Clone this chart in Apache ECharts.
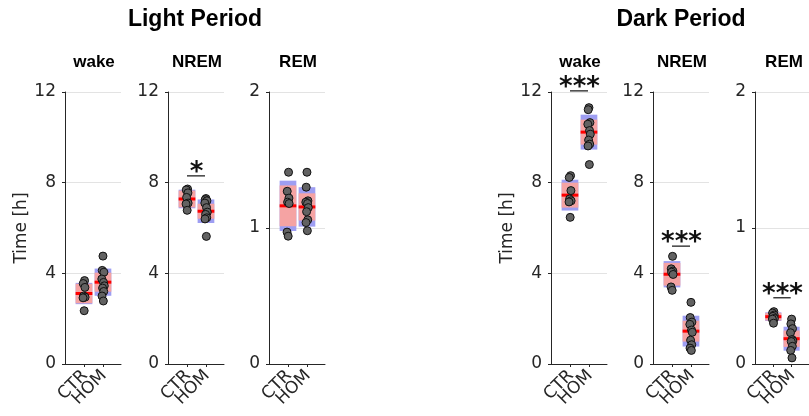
<!DOCTYPE html>
<html><head><meta charset="utf-8">
<script src="https://cdn.jsdelivr.net/npm/echarts@6/dist/echarts.min.js"></script>
<style>html,body{margin:0;padding:0;background:#fff}#c{width:809px;height:416px}</style>
</head><body><div id="c"></div>
<script>
const categories = ['CTR', 'HOM'];
const periods = ['Light Period', 'Dark Period'];
const stages = ['wake', 'NREM', 'REM', 'wake', 'NREM', 'REM'];
const yMax = [12, 12, 2, 12, 12, 2];
const yInterval = [4, 4, 1, 4, 4, 1];
const yName = 'Time [h]';

// individual animals (hours)
const lightWakeCTR = [3.68, 3.55, 3.38, 3.0, 2.95, 2.92, 2.35];
const lightWakeHOM = [4.76, 4.13, 4.05, 3.75, 3.6, 3.45, 3.35, 3.2, 3.0, 2.78];
const lightNremCTR = [7.72, 7.68, 7.55, 7.35, 7.1, 7.06, 6.78];
const lightNremHOM = [7.3, 7.25, 7.2, 7.1, 6.9, 6.7, 6.6, 6.45, 6.4, 5.63];
const lightRemCTR = [1.41, 1.27, 1.22, 1.19, 1.18, 0.97, 0.94];
const lightRemHOM = [1.41, 1.30, 1.20, 1.19, 1.18, 1.15, 1.12, 1.06, 1.04, 0.98];
const darkWakeCTR = [8.31, 8.23, 7.65, 7.28, 7.2, 7.15, 6.47];
const darkWakeHOM = [11.31, 11.22, 10.65, 10.58, 10.3, 10.14, 9.88, 9.7, 9.62, 8.8];
const darkNremCTR = [4.75, 4.2, 4.1, 4.05, 3.95, 3.4, 3.25];
const darkNremHOM = [2.72, 2.05, 1.85, 1.75, 1.5, 1.4, 1.05, 0.85, 0.7, 0.6];
const darkRemCTR = [0.385, 0.375, 0.36, 0.35, 0.335, 0.33, 0.30];
const darkRemHOM = [0.33, 0.295, 0.26, 0.23, 0.18, 0.17, 0.165, 0.13, 0.1, 0.045];

const pointsCTR = [lightWakeCTR, lightNremCTR, lightRemCTR, darkWakeCTR, darkNremCTR, darkRemCTR];
const pointsHOM = [lightWakeHOM, lightNremHOM, lightRemHOM, darkWakeHOM, darkNremHOM, darkRemHOM];

// horizontal scatter offsets of the dots
const jitterCTR = [0.03, -0.04, 0.05, -0.02, 0.06, -0.05, 0.01];
const jitterHOM = [0.0, -0.04, 0.05, -0.06, 0.03, 0.07, -0.02, 0.04, -0.05, 0.02];

// box statistics: mean, SD half-height (blue), CI half-height (pink)
const meanCTR = [3.11, 7.28, 1.163, 7.45, 3.96, 0.348];
const sdCTR = [0.47, 0.41, 0.185, 0.68, 0.58, 0.032];
const ciCTR = [0.43, 0.37, 0.15, 0.55, 0.5, 0.028];
const meanHOM = [3.61, 6.74, 1.155, 10.23, 1.45, 0.186];
const sdHOM = [0.6, 0.52, 0.145, 0.77, 0.68, 0.088];
const ciHOM = [0.42, 0.33, 0.1, 0.55, 0.46, 0.06];

// significance markers
const sigLabel = ['', '*', '', '***', '***', '***'];
const sigY = [null, 8.3, null, 12.05, 5.2, 0.487];

const panelLeft = [65, 168, 269, 551, 653, 755];
const panelW = 56;
const TXT = '#262626';
const FONT = 'DejaVu Sans';

const grid = [], xAxis = [], yAxis = [], series = [], graphic = [];
for (let i = 0; i < 6; i++) {
  grid.push({ left: panelLeft[i], width: panelW, top: 92, height: 272 });
  xAxis.push({
    gridIndex: i, type: 'value', min: 0, max: 2.95,
    axisLine: { show: true, onZero: false, lineStyle: { color: TXT, width: 1 } },
    axisTick: { show: true, customValues: [1, 2], length: 3, lineStyle: { color: TXT } },
    axisLabel: { show: false },
    splitLine: { show: false }
  });
  yAxis.push({
    gridIndex: i, type: 'value', min: 0, max: yMax[i], interval: yInterval[i],
    axisLine: { show: true, lineStyle: { color: TXT, width: 1 } },
    axisTick: { show: true, length: 3, lineStyle: { color: TXT } },
    axisLabel: { fontSize: 17, fontFamily: FONT, color: TXT, margin: 9 },
    splitLine: { show: true, lineStyle: { color: '#e3e3e3', width: 1 } },
    name: i % 3 === 0 ? yName : '', nameLocation: 'middle', nameGap: 31,
    nameTextStyle: { fontSize: 17, fontFamily: FONT, color: TXT }
  });
  const boxData = [
    [1, meanCTR[i], sdCTR[i], ciCTR[i]],
    [2, meanHOM[i], sdHOM[i], ciHOM[i]]
  ];
  series.push({
    type: 'custom', xAxisIndex: i, yAxisIndex: i, z: 2, silent: true,
    data: boxData, encode: { x: 0, y: 1 },
    renderItem: (params, api) => {
      const x = api.value(0), m = api.value(1), sd = api.value(2), ci = api.value(3);
      const hw = 0.44;
      const a = api.coord([x - hw, m + sd]), b = api.coord([x + hw, m - sd]);
      const c = api.coord([x - hw, m + ci]), d = api.coord([x + hw, m - ci]);
      const e = api.coord([x - hw, m]), f = api.coord([x + hw, m]);
      return { type: 'group', children: [
        { type: 'rect', shape: { x: a[0], y: a[1], width: b[0] - a[0], height: b[1] - a[1] }, style: { fill: '#9e9ef2' } },
        { type: 'rect', shape: { x: c[0], y: c[1], width: d[0] - c[0], height: d[1] - c[1] }, style: { fill: '#f5a3a3' } },
        { type: 'line', shape: { x1: e[0], y1: e[1], x2: f[0], y2: f[1] }, style: { stroke: '#ff0000', lineWidth: 3 } }
      ] };
    }
  });
  // category tick labels (rotated 45°) placed through the x scale
  series.push({
    type: 'custom', xAxisIndex: i, yAxisIndex: i, z: 5, silent: true, clip: false,
    data: categories.map((c, k) => [k + 1, 0]), encode: { x: 0, y: 1 },
    renderItem: (params, api) => {
      const p = api.coord([api.value(0), api.value(1)]);
      return { type: 'text', x: p[0] + 1, y: p[1] + 9, rotation: Math.PI / 4,
        style: { text: categories[params.dataIndex], fill: TXT, font: '17px "DejaVu Sans"', align: 'right', verticalAlign: 'middle' } };
    }
  });
  const pts = [];
  pointsCTR[i].forEach((v, k) => pts.push([1 + jitterCTR[k], v]));
  pointsHOM[i].forEach((v, k) => pts.push([2 + jitterHOM[k], v]));
  series.push({
    type: 'scatter', xAxisIndex: i, yAxisIndex: i, z: 3, silent: true,
    symbolSize: 8, data: pts,
    itemStyle: { color: '#626262', borderColor: '#111', borderWidth: 1, opacity: 1 }
  });
  if (sigLabel[i]) {
    const lab = sigLabel[i];
    series.push({
      type: 'custom', xAxisIndex: i, yAxisIndex: i, z: 4, silent: true, clip: false,
      data: [[1.5, sigY[i]]], encode: { x: 0, y: 1 },
      renderItem: (params, api) => {
        const y = api.value(1);
        const p = api.coord([1.0, y]), q = api.coord([1.95, y]), mid = api.coord([api.value(0), y]);
        return { type: 'group', children: [
          { type: 'line', shape: { x1: p[0], y1: p[1], x2: q[0], y2: q[1] }, style: { stroke: '#222', lineWidth: 1.3 } },
          { type: 'text', x: mid[0], y: mid[1] - 3, style: { text: lab, fill: '#111', font: 'bold 26px "DejaVu Sans"', align: 'center', verticalAlign: 'middle' } }
        ] };
      }
    });
  }
  graphic.push({ type: 'text', x: panelLeft[i] + panelW / 2 + 1, y: 62,
    style: { text: stages[i], fill: '#000', font: 'bold 17px "Liberation Sans"', align: 'center', verticalAlign: 'middle' } });
}
graphic.push({ type: 'text', x: 195, y: 20, style: { text: periods[0], fill: '#000', font: 'bold 23px "Liberation Sans"', align: 'center', verticalAlign: 'middle' } });
graphic.push({ type: 'text', x: 681, y: 20, style: { text: periods[1], fill: '#000', font: 'bold 23px "Liberation Sans"', align: 'center', verticalAlign: 'middle' } });

const chart = echarts.init(document.getElementById('c'), null, { renderer: 'canvas' });
chart.setOption({ animation: false, backgroundColor: '#fff', grid, xAxis, yAxis, series, graphic });
</script></body></html>
